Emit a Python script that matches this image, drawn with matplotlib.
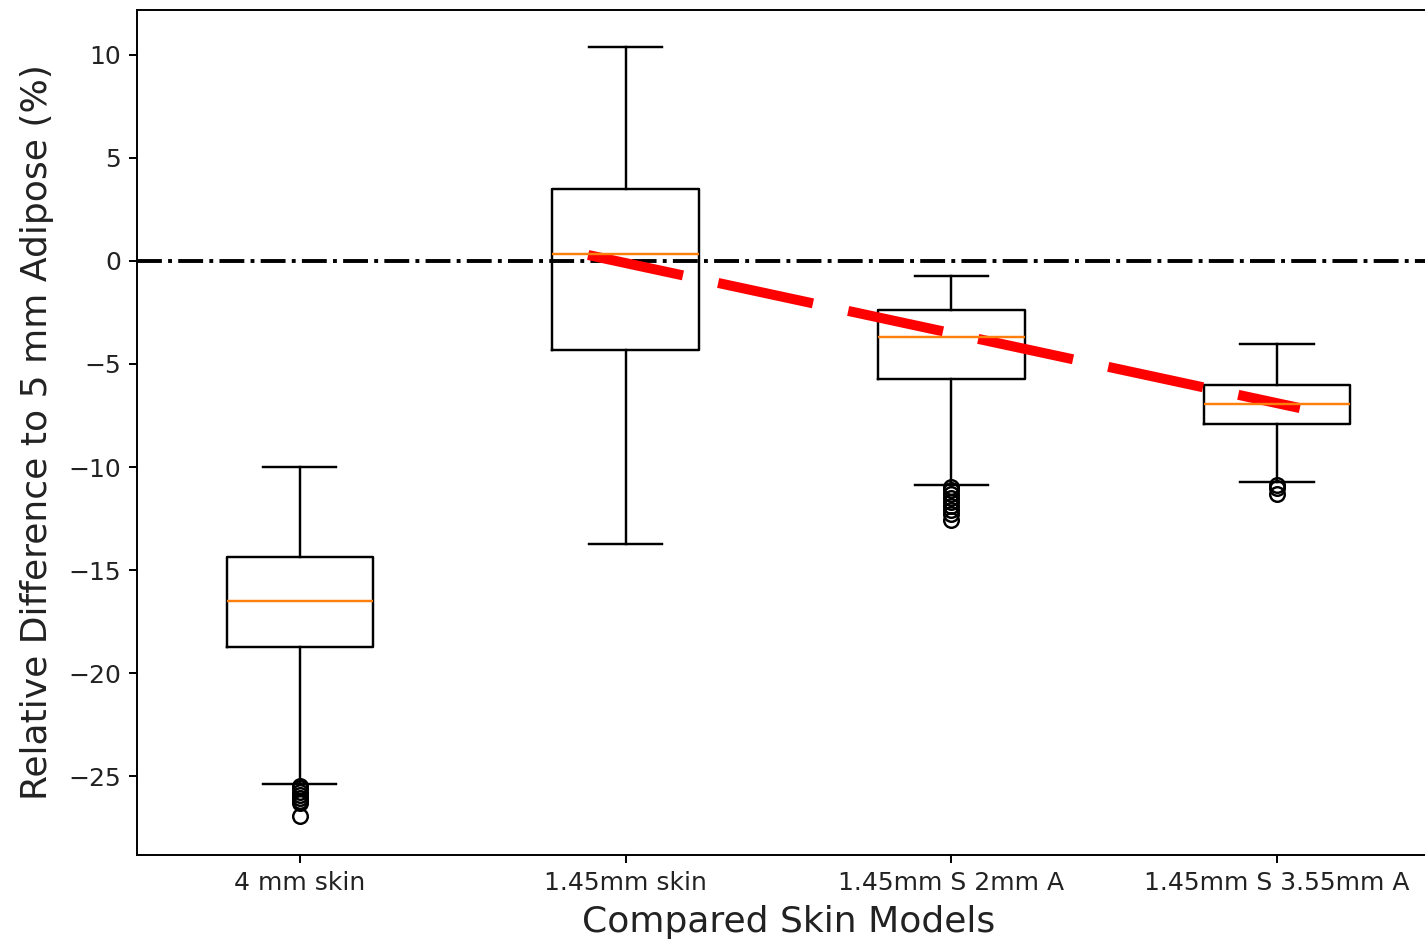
import matplotlib
matplotlib.use("Agg")
import matplotlib.pyplot as plt

labels = ["4 mm skin", "1.45mm skin", "1.45mm S 2mm A", "1.45mm S 3.55mm A"]
whislo = [-25.4, -13.75, -10.85, -10.75]
q1 = [-18.75, -4.3, -5.72, -7.9]
med = [-16.5, 0.34, -3.68, -6.93]
q3 = [-14.35, 3.5, -2.38, -6.02]
whishi = [-10.0, 10.4, -0.72, -4.03]
fliers = [
    [-25.5, -25.6, -25.75, -25.9, -26.05, -26.2, -26.3, -26.95],
    [],
    [-10.95, -11.1, -11.3, -11.5, -11.7, -11.9, -12.1, -12.3, -12.55],
    [-10.85, -11.0, -11.3],
]

# trend line through the last three models
trend_x = [1.885, 4.07]
trend_y = [0.29, -7.14]

stats = []
for i in range(len(labels)):
    stats.append(dict(label=labels[i], whislo=whislo[i], q1=q1[i], med=med[i],
                      q3=q3[i], whishi=whishi[i], fliers=fliers[i]))

fig = plt.figure(figsize=(14.25, 9.43), dpi=100)
ax = fig.add_axes([0.0961, 0.0933, 0.9144, 0.8961])

lw = 1.75
ax.bxp(stats, positions=[1, 2, 3, 4], widths=0.45,
       boxprops=dict(linewidth=lw, color="black"),
       whiskerprops=dict(linewidth=lw, color="black"),
       capprops=dict(linewidth=lw, color="black"),
       medianprops=dict(linewidth=lw, color="C1"),
       flierprops=dict(marker="o", markersize=10.5, markeredgewidth=lw,
                       markerfacecolor="none", markeredgecolor="black"))

ax.axhline(0, color="black", linestyle="-.", linewidth=2.8)
line, = ax.plot(trend_x, trend_y, color="red", linewidth=7.2)
line.set_dashes((9.7, 3.6))

ax.set_xlim(0.5, 4.5)
ax.set_ylim(-28.83, 12.18)
ax.set_yticks([-25, -20, -15, -10, -5, 0, 5, 10])
ax.tick_params(labelsize=18, length=6, width=1.4, labelcolor="#222222")
ax.tick_params(axis="x", pad=5.5)
ax.tick_params(axis="y", pad=5.5)
for s in ax.spines.values():
    s.set_linewidth(1.4)
ax.spines["right"].set_visible(False)

ax.set_xlabel("Compared Skin Models", fontsize=26, labelpad=7, color="#222222")
ax.set_ylabel("Relative Difference to 5 mm Adipose (%)", fontsize=26, labelpad=10,
              color="#222222")

fig.savefig("out.png", dpi=100)
